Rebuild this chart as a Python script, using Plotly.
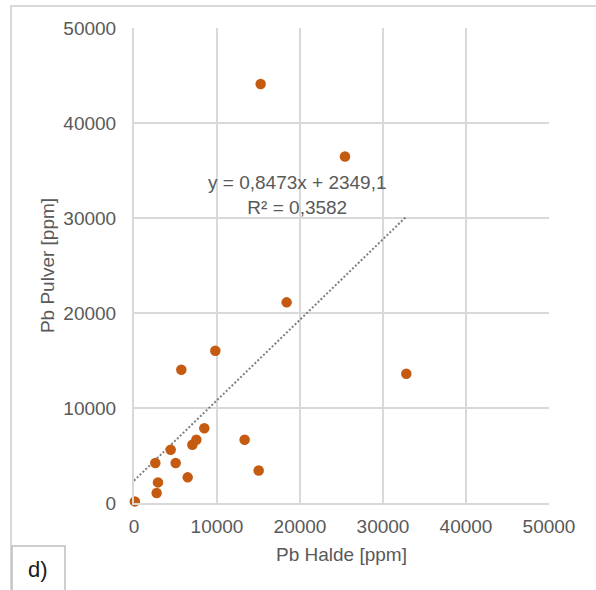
import plotly.graph_objects as go

# Data
pb_halde = [100, 2730, 2890, 2570, 4420, 5020, 6470, 5700, 9800, 7030, 7510, 8470,
            13330, 15020, 18390, 32810, 15260, 25420]
pb_pulver = [170, 1050, 2170, 4210, 5610, 4210, 2700, 14030, 16030, 6140, 6660, 7860,
             6660, 3430, 21120, 13610, 44100, 36480]
slope = 0.8473
intercept = 2349.1
tick_vals = [0, 10000, 20000, 30000, 40000, 50000]
tick_text = ["0", "10000", "20000", "30000", "40000", "50000"]

W, H = 596, 590
L, R, T, B = 134, 47, 28, 87
pw, ph = W - L - R, H - T - B


def px2paper_x(px):
    return (px - L) / pw


def py2paper_y(py):
    return (H - B - py) / ph


x_end = max(pb_halde)
trend_x = [0, x_end]
trend_y = [intercept + slope * v for v in trend_x]

grey = "#595959"
grid = "#d9d9d9"
fam = "Liberation Sans, Arial, sans-serif"

fig = go.Figure()
fig.add_trace(go.Scatter(x=trend_x, y=trend_y, mode="lines",
                         line=dict(color="#7f7f7f", width=2, dash="2px,2px"),
                         hoverinfo="skip", showlegend=False))
fig.add_trace(go.Scatter(x=pb_halde, y=pb_pulver, mode="markers",
                         marker=dict(color="#c55a11", size=10.5),
                         cliponaxis=False, showlegend=False))

font = dict(family=fam, size=19, color=grey)

fig.update_layout(
    width=W, height=H,
    margin=dict(l=L, r=R, t=T, b=B, pad=0),
    paper_bgcolor="white", plot_bgcolor="white",
    font=font,
    xaxis=dict(range=[0, 50000], tickvals=tick_vals, ticktext=tick_text,
               showgrid=True, gridcolor=grid, gridwidth=2,
               showline=True, linecolor=grid, linewidth=2,
               zeroline=False, ticks="", ticklen=0, ticklabelstandoff=5,
               title=dict(text="Pb Halde [ppm]", standoff=12, font=font),
               tickfont=font, fixedrange=True),
    yaxis=dict(range=[0, 50000], tickvals=tick_vals, ticktext=tick_text,
               showgrid=True, gridcolor=grid, gridwidth=2,
               showline=True, linecolor=grid, linewidth=2,
               zeroline=False, ticks="", ticklen=0, ticklabelstandoff=12,
               title=dict(text="Pb Pulver [ppm]", standoff=4, font=font),
               tickfont=font, fixedrange=True),
    annotations=[
        dict(x=px2paper_x(297), y=py2paper_y(195), xref="paper", yref="paper",
             text="y = 0,8473x + 2349,1<br>R² = 0,3582", showarrow=False,
             font=dict(family=fam, size=19, color=grey),
             align="center", xanchor="center", yanchor="middle"),
        dict(x=px2paper_x(38), y=py2paper_y(569), xref="paper", yref="paper",
             text="d)", showarrow=False,
             font=dict(family=fam, size=22, color="#1a1a1a"),
             xanchor="center", yanchor="middle"),
    ],
    shapes=[
        dict(type="rect", xref="paper", yref="paper",
             x0=px2paper_x(11), x1=px2paper_x(620), y0=py2paper_y(620), y1=py2paper_y(6),
             line=dict(color=grid, width=2), fillcolor="rgba(0,0,0,0)", layer="below"),
        dict(type="rect", xref="paper", yref="paper",
             x0=px2paper_x(12), x1=px2paper_x(65), y0=py2paper_y(620), y1=py2paper_y(546),
             line=dict(color="#bfbfbf", width=1.5), fillcolor="white", layer="above"),
    ],
)

fig.write_html("out.html")
